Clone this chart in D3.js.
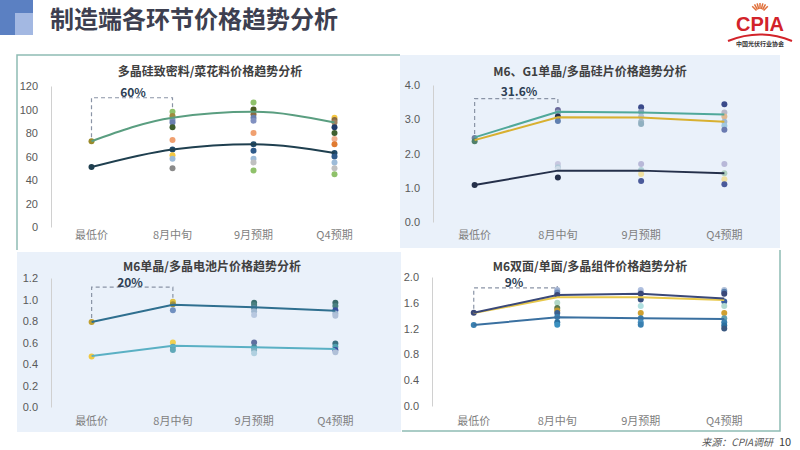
<!DOCTYPE html>
<html>
<head>
<meta charset="utf-8">
<script src="https://cdn.jsdelivr.net/npm/d3@7"></script>
<style>
  body { margin: 0; background: #fff; }
  svg { display: block; font-family: "Noto Sans CJK SC", "Noto Sans", sans-serif; }
</style>
</head>
<body>
<svg id="chart" width="800" height="450"></svg>
<script>
// 共通カテゴリ
var categories = ["最低价", "8月中旬", "9月预期", "Q4预期"];

// 1. 多晶硅
var siTitle = "多晶硅致密料/菜花料价格趋势分析";
var siTicks = [0, 20, 40, 60, 80, 100, 120];
var siDense = [73, 93, 98, 89];
var siCauliflower = [51, 66, 70.5, 63];
var siPoints = [
  [73, 51],
  [98, 94.5, 91, 89, 85, 74, 66, 61, 58, 50],
  [106, 100, 96, 93, 90.5, 80, 70.5, 65, 58, 55, 48],
  [93, 91, 89, 85, 80, 75, 70.5, 63, 60, 55, 50, 45]
];
var siGap = ["60%", 73, 110, 98];

// 2. 硅片
var wfTitle = "M6、G1单晶/多晶硅片价格趋势分析";
var wfTicks = [0, 1, 2, 3, 4];
var wfM6 = [2.47, 3.22, 3.2, 3.14];
var wfG1 = [2.39, 3.06, 3.05, 2.93];
var wfPoly = [1.08, 1.5, 1.5, 1.42];
var wfPoints = [
  [2.45, 2.36, 1.08],
  [3.27, 3.2, 3.08, 2.95, 1.69, 1.6, 1.55, 1.3],
  [3.35, 3.22, 3.08, 2.93, 2.86, 1.69, 1.52, 1.4, 1.2],
  [3.44, 3.2, 3.08, 2.93, 2.81, 2.69, 1.69, 1.42, 1.25, 1.1]
];
var wfGap = ["31.6%", 2.45, 3.6, 3.27];

// 3. 电池片
var clTitle = "M6单晶/多晶电池片价格趋势分析";
var clTicks = [0, 0.2, 0.4, 0.6, 0.8, 1.0, 1.2];
var clMono = [0.79, 0.95, 0.927, 0.896];
var clPoly = [0.474, 0.57, 0.555, 0.54];
var clPoints = [
  [0.79, 0.47],
  [0.98, 0.955, 0.9, 0.6, 0.56, 0.53],
  [0.97, 0.95, 0.92, 0.89, 0.856, 0.6, 0.555, 0.53, 0.5],
  [0.97, 0.94, 0.9, 0.87, 0.85, 0.59, 0.56, 0.53, 0.51]
];
var clGap = ["20%", 0.79, 1.115, 0.98];

// 4. 组件
var mdTitle = "M6双面/单面/多晶组件价格趋势分析";
var mdTicks = [0, 0.4, 0.8, 1.2, 1.6, 2.0];
var mdBifacial = [1.447, 1.72, 1.74, 1.665];
var mdMono = [1.44, 1.685, 1.685, 1.643];
var mdPoly = [1.256, 1.375, 1.36, 1.35];
var mdPoints = [
  [1.447, 1.256],
  [1.8, 1.76, 1.72, 1.6, 1.52, 1.48, 1.44, 1.38, 1.3, 1.26],
  [1.8, 1.76, 1.74, 1.65, 1.55, 1.44, 1.36, 1.3, 1.26],
  [1.8, 1.77, 1.74, 1.62, 1.55, 1.44, 1.36, 1.3, 1.25, 1.2]
];
var mdGap = ["9%", 1.447, 1.83, 1.8];

// 点の色
var siColors = [
  ["#9a8a2a", "#1f3f4f"],
  ["#8fc16a", "#a08a40", "#8090c0", "#6a7fb0", "#3f5f2f", "#f0a070", "#1f4a6a", "#f5c842", "#9dbbd8", "#8a8a8a"],
  ["#8fc16a", "#4a5a20", "#8a6a40", "#6a7fb0", "#8090c0", "#f0a070", "#1f4a6a", "#2f5a8a", "#9dbbd8", "#c0c0c0", "#8fc16a"],
  ["#f5c842", "#8a6a40", "#a08060", "#1f3a6a", "#3f5f2f", "#f0b090", "#e07a30", "#1f4a6a", "#2f5a8a", "#9dbbd8", "#c0c0c0", "#8fc16a"]
];
var wfColors = [
  ["#7080a0", "#50806a", "#25304a"],
  ["#6a6a9a", "#90a0c0", "#25304a", "#6080b0", "#c8c8e0", "#b0c8d8", "#d0dce8", "#25304a"],
  ["#3a4a8a", "#90a0c0", "#b0c0d8", "#a0b8c8", "#90b0c0", "#b8b8d8", "#b0d0d8", "#f0e0a0", "#4a5a9a"],
  ["#3a4a8a", "#b8b8c8", "#e0b890", "#a0b8d0", "#a0c8e0", "#6a7ab0", "#b8b8d8", "#b0d0c0", "#f0e0a0", "#4a5a9a"]
];
var clColors = [
  ["#c0a030", "#f0c840"],
  ["#e0c040", "#a09040", "#7090c0", "#f0d050", "#5aa0b0", "#60a8b8"],
  ["#3a7070", "#4a8080", "#5a8aa0", "#a0b8d0", "#b8c8e0", "#6070a0", "#4a8a9a", "#80b0c0", "#b0d0e0"],
  ["#3a6a6a", "#4a8080", "#3a50a0", "#a0b8d0", "#b0c0d8", "#3a7080", "#50a0b0", "#3a50a0", "#b0c0d8"]
];
var mdColors = [
  ["#3a4878", "#3a80b0"],
  ["#a0b0d0", "#7090c0", "#3a4878", "#b0d8c8", "#5a7a50", "#c09a30", "#3a6090", "#3a80b0", "#2a70a0", "#3a90c0"],
  ["#b0c0e0", "#a0b0d0", "#3a4878", "#3a5080", "#b0e0e0", "#d0a030", "#3a80b0", "#4a90c0", "#3a80b0"],
  ["#b0c0d8", "#5a80b0", "#3a4878", "#3a60a0", "#b0d8d0", "#d0a030", "#60a0b0", "#3a80b0", "#2a70a0", "#3a5880"]
];

var svg = d3.select("#chart");

// 背景パネル
svg.append("rect").attr("x", 400).attr("y", 55).attr("width", 380).attr("height", 193).attr("fill", "#eaf1fa");
svg.append("rect").attr("x", 17).attr("y", 252).attr("width", 384).attr("height", 180).attr("fill", "#eaf1fa");
var border = "#8fbcb4";
svg.append("path").attr("d", "M17,250V55H400").attr("fill", "none").attr("stroke", border).attr("stroke-width", 1.5);
svg.append("path").attr("d", "M402,431H780V250").attr("fill", "none").attr("stroke", border).attr("stroke-width", 1.5);

// タイトル
svg.append("rect").attr("x", 0).attr("y", 0).attr("width", 33).attr("height", 35).attr("fill", "#5b80c2");
svg.append("rect").attr("x", 15).attr("y", 13).attr("width", 18).attr("height", 22).attr("fill", "#a3b8e2");
svg.append("text").attr("x", 50).attr("y", 28).attr("font-size", 24).attr("font-weight", "bold")
   .attr("fill", "#3d3f50").text("制造端各环节价格趋势分析");

// CPIA ロゴ
var logo = svg.append("g");
for (var i = 0; i < 7; i++) {
  var a = Math.PI * (0.25 + i * 0.0833);
  logo.append("line").attr("x1", 760 + Math.cos(a) * 5).attr("y1", 14 - Math.sin(a) * 5)
      .attr("x2", 760 + Math.cos(a) * 11).attr("y2", 14 - Math.sin(a) * 11)
      .attr("stroke", "#e0703a").attr("stroke-width", 1.5);
}
logo.append("text").attr("x", 760).attr("y", 31).attr("text-anchor", "middle").attr("font-size", 20)
    .attr("font-weight", "bold").attr("font-family", "Liberation Sans Narrow, Liberation Sans, sans-serif")
    .attr("fill", "#d2232a").text("CPIA");
logo.append("path").attr("d", "M728,41Q760,28 792,41").attr("fill", "none").attr("stroke", "#d2232a").attr("stroke-width", 2);
logo.append("text").attr("x", 760).attr("y", 46).attr("text-anchor", "middle").attr("font-size", 6)
    .attr("font-weight", "bold").attr("fill", "#333").text("中国光伏行业协会");

// 出典
svg.append("text").attr("x", 773).attr("y", 446).attr("text-anchor", "end").attr("font-size", 10)
   .attr("font-style", "italic").attr("fill", "#595959").text("来源：CPIA调研");
svg.append("text").attr("x", 779).attr("y", 446).attr("font-size", 11).attr("fill", "#404040").text("10");

function drawPanel(p) {
  var g = svg.append("g");
  var x = d3.scalePoint().domain(categories).range([p.x0, p.x1]).padding(0.5);
  var y = d3.scaleLinear().domain([0, p.ticks[p.ticks.length - 1]]).range([p.y0, p.y1]);

  // 縦軸
  var yAxis = g.append("g").attr("transform", "translate(" + p.x0 + ",0)")
    .call(d3.axisLeft(y).tickValues(p.ticks).tickSize(0).tickPadding(13).tickFormat(d3.format(p.fmt)));
  yAxis.select(".domain").attr("stroke", "#d0d0d0");
  yAxis.selectAll("text").attr("font-size", 11).attr("fill", "#595959")
       .attr("font-family", "Liberation Sans, sans-serif");

  // 横軸ラベル
  g.selectAll(".xl").data(categories).enter().append("text")
    .attr("x", function(d) { return x(d); }).attr("y", p.xly)
    .attr("text-anchor", "middle").attr("font-size", 11).attr("fill", "#7f7f7f").text(function(d) { return d; });

  // タイトル
  g.append("text").attr("x", p.tx).attr("y", p.ty).attr("text-anchor", "middle").attr("font-size", 12)
    .attr("font-weight", "bold").attr("fill", "#404040").text(p.title);

  // 上昇幅の破線
  var xa = x(categories[0]), xb = x(categories[1]);
  g.append("path")
    .attr("d", "M" + xa + "," + (y(p.gap[1]) - 4) + "V" + y(p.gap[2]) + "H" + xb + "V" + (y(p.gap[3]) - 4))
    .attr("fill", "none").attr("stroke", "#8a94a6").attr("stroke-width", 1.2).attr("stroke-dasharray", "4,3");
  g.append("text").attr("x", p.gx).attr("y", p.gy).attr("text-anchor", "middle").attr("font-size", 12)
    .attr("font-weight", "bold").attr("fill", "#2e3f55").text(p.gap[0]);

  // 散布点
  p.points.forEach(function(vals, ci) {
    g.selectAll(".pt" + ci).data(vals).enter().append("circle")
      .attr("cx", x(categories[ci])).attr("cy", function(d) { return y(d); }).attr("r", 3)
      .attr("fill", function(d, j) { return p.colors[ci][j]; });
  });

  // 折れ線
  var line = d3.line().x(function(d, i) { return x(categories[i]); }).y(function(d) { return y(d); })
    .curve(p.curve || d3.curveLinear);
  p.lines.forEach(function(l) {
    g.append("path").datum(l[0]).attr("d", line).attr("fill", "none")
      .attr("stroke", l[1]).attr("stroke-width", 2);
  });
}

drawPanel({ title: siTitle, ticks: siTicks, fmt: "d", points: siPoints, colors: siColors, gap: siGap,
  lines: [[siDense, "#5a9e80"], [siCauliflower, "#1f3f4f"]], curve: d3.curveMonotoneX,
  x0: 51, x1: 375, y0: 227, y1: 86, xly: 239, tx: 210, ty: 76, gx: 133, gy: 97 });
drawPanel({ title: wfTitle, ticks: wfTicks, fmt: ".1f", points: wfPoints, colors: wfColors, gap: wfGap,
  lines: [[wfM6, "#50a89a"], [wfG1, "#d8b030"], [wfPoly, "#25304a"]],
  x0: 433, x1: 766, y0: 222, y1: 85, xly: 239, tx: 590, ty: 76, gx: 519, gy: 96 });
drawPanel({ title: clTitle, ticks: clTicks, fmt: ".1f", points: clPoints, colors: clColors, gap: clGap,
  lines: [[clMono, "#2f6f8f"], [clPoly, "#5ab0c4"]],
  x0: 51, x1: 376, y0: 407, y1: 278, xly: 425, tx: 212, ty: 271, gx: 130, gy: 287 });
drawPanel({ title: mdTitle, ticks: mdTicks, fmt: ".1f", points: mdPoints, colors: mdColors, gap: mdGap,
  lines: [[mdMono, "#e8c84a"], [mdBifacial, "#3a4878"], [mdPoly, "#3a70a0"]],
  x0: 432, x1: 766, y0: 406, y1: 277, xly: 425, tx: 590, ty: 271, gx: 514, gy: 287 });
</script>
</body>
</html>
